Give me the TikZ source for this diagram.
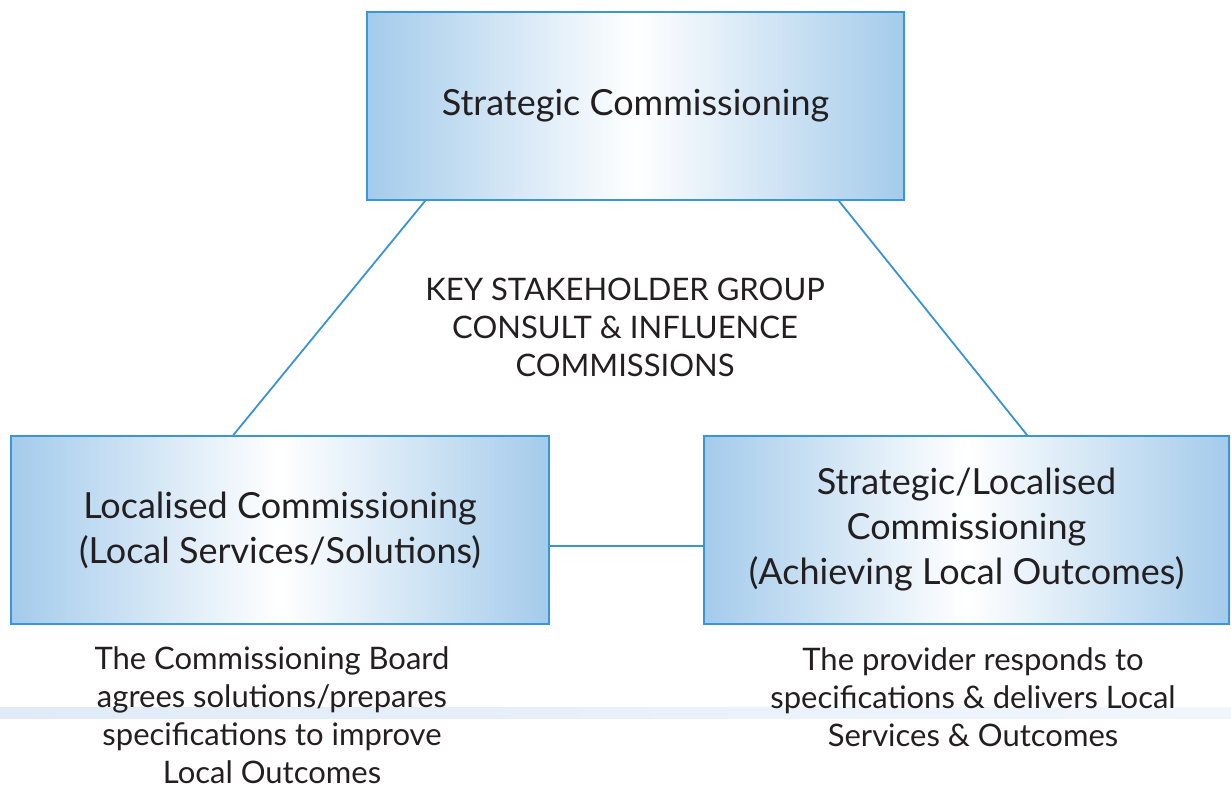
\documentclass[tikz,border=0pt]{standalone}
\usepackage{fontspec}
\setmainfont{Lato}
\usetikzlibrary{calc}
\definecolor{boxedge}{HTML}{3A96D6}
\definecolor{boxfill}{HTML}{A4CBEB}
\definecolor{linecol}{HTML}{3A94D4}
\definecolor{txt}{HTML}{231F20}
\definecolor{bandL}{HTML}{DFEBF7}
\definecolor{bandR}{HTML}{F1F6FC}
\tikzset{
  cbox/.style={draw=boxedge, line width=1.6pt, left color=boxfill, right color=boxfill, middle color=white,
    minimum height=188pt, align=center, text=txt, font=\fontsize{36}{45}\selectfont, inner sep=0pt},
  link/.style={draw=linecol, line width=1.8pt},
  note/.style={align=center, text=txt, font=\fontsize{31}{38}\selectfont, inner sep=0pt}
}
\begin{document}
\begin{tikzpicture}[x=1pt,y=-1pt]
\useasboundingbox (0,0) rectangle (1231,787);
\fill[left color=bandL, right color=bandR] (0,707) rectangle (1231,718);
\node[cbox, minimum width=537pt] (top) at (635.5,106) {Strategic Commissioning};
\node[cbox, minimum width=538pt] (left) at (280,530) {Localised Commissioning\\(Local Services/Solutions)};
\node[cbox, minimum width=525pt] (right) at (966.5,530) {Strategic/Localised\\Commissioning\\(Achieving Local Outcomes)};
\draw[link] ($(top.south west)+(59,0)$) -- ($(left.north west)+(223,0)$);
\draw[link] ($(top.south east)+(-66,0)$) -- ($(right.north west)+(324,0)$);
\draw[link] ($(left.east)+(0,16)$) -- ($(right.west)+(0,16)$);
\node[note] (center) at (625,327) {KEY STAKEHOLDER GROUP\\CONSULT \& INFLUENCE\\COMMISSIONS};
\node[note, anchor=north, text depth=0pt] (lnote) at (272,646) {The Commissioning Board\\agrees solutions/prepares\\specifications to improve\\Local Outcomes};
\node[note, anchor=north] (rnote) at (973,647) {The provider responds to\\specifications \& delivers Local\\Services \& Outcomes};
\end{tikzpicture}
\end{document}
